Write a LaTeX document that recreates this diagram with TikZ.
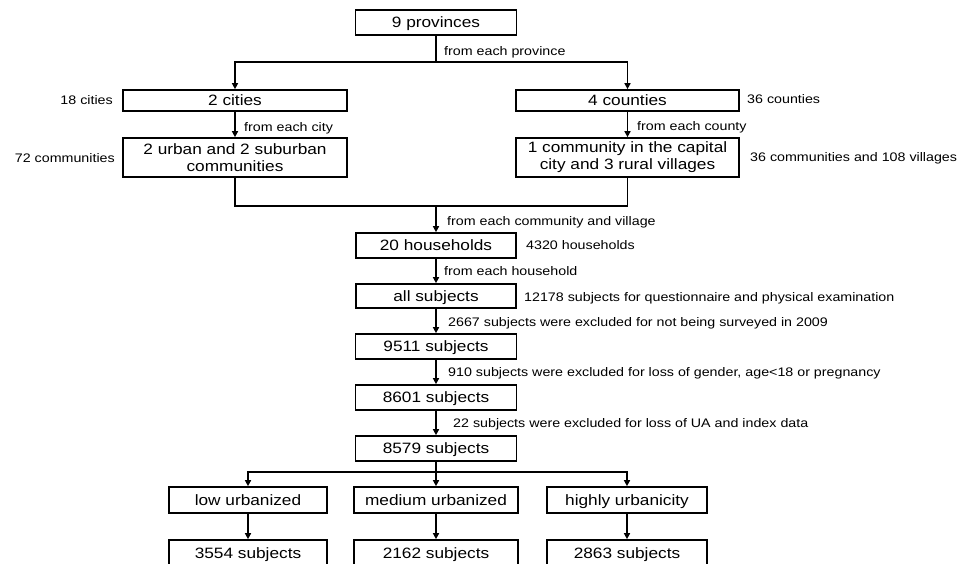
\documentclass[tikz,border=0pt]{standalone}
\usepackage{fontspec}
\setmainfont{Liberation Sans}[FakeStretch=1.15]
\usetikzlibrary{arrows.meta}
\tikzset{
  box/.style={draw, line width=1.7pt, inner sep=0pt, align=center, font=\fontsize{15}{17}\selectfont},
  onebox/.style={box, text height=13.7pt, text depth=3pt},
  lbl/.style={inner sep=0pt, font=\fontsize{12.4}{15}\selectfont, text height=11.9pt, text depth=3pt},
  conn/.style={line width=1.7pt, -{Triangle[length=6pt,width=6pt]}},
  plain/.style={line width=1.7pt}
}
\begin{document}
\begin{tikzpicture}[x=1pt,y=-1pt]
\clip (0,0) rectangle (968,563);
\fill[white] (0,0) rectangle (968,563);
% boxes
\node[onebox, minimum width=161pt, minimum height=25pt] (prov) at (436,22.5) {9 provinces};
\node[onebox, minimum width=224pt, minimum height=21pt] (cities) at (235,100.5) {2 cities};
\node[onebox, minimum width=223pt, minimum height=21pt] (counties) at (627.5,100.5) {4 counties};
\node[box, minimum width=224pt, minimum height=39pt] (urban) at (235,157.5) {2 urban and 2 suburban\\communities};
\node[box, minimum width=223pt, minimum height=39pt] (comm) at (627.5,157.5) {1 community in the capital\\city and 3 rural villages};
\node[onebox, minimum width=160pt, minimum height=25pt] (hh) at (436,245.5) {20 households};
\node[onebox, minimum width=160pt, minimum height=24pt] (all) at (436,296) {all subjects};
\node[onebox, minimum width=161pt, minimum height=25pt] (s9511) at (436,346.5) {9511 subjects};
\node[onebox, minimum width=161pt, minimum height=25pt] (s8601) at (436,397.5) {8601 subjects};
\node[onebox, minimum width=161pt, minimum height=25pt] (s8579) at (436,448.5) {8579 subjects};
\node[onebox, minimum width=158pt, minimum height=26pt] (low) at (248,500) {low urbanized};
\node[onebox, minimum width=164pt, minimum height=26pt] (med) at (436,500) {medium urbanized};
\node[onebox, minimum width=160pt, minimum height=26pt] (high) at (627,500) {highly urbanicity};
\node[onebox, minimum width=158pt, minimum height=26pt] (b1) at (248,553) {3554 subjects};
\node[onebox, minimum width=164pt, minimum height=26pt] (b2) at (436,553) {2162 subjects};
\node[onebox, minimum width=160pt, minimum height=26pt] (b3) at (627,553) {2863 subjects};
% junctions
\coordinate (j1) at (436,62);
\coordinate (j2) at (436,206);
\coordinate (j3) at (436,472);
% connectors
\draw[plain] (prov.south) -- (j1);
\draw[conn] (j1) -| (cities.north);
\draw[conn] (j1) -| (counties.north);
\draw[conn] (cities.south) -- (urban.north);
\draw[conn] (counties.south) -- (comm.north);
\draw[plain] (urban.south) |- (j2);
\draw[plain] (comm.south) |- (j2);
\draw[conn] (j2) -- (hh.north);
\draw[conn] (hh.south) -- (all.north);
\draw[conn] (all.south) -- (s9511.north);
\draw[conn] (s9511.south) -- (s8601.north);
\draw[conn] (s8601.south) -- (s8579.north);
\draw[plain] (s8579.south) -- (j3);
\draw[conn] (j3) -| (low.north);
\draw[conn] (j3) -- (med.north);
\draw[conn] (j3) -| (high.north);
\draw[conn] (low.south) -- (b1.north);
\draw[conn] (med.south) -- (b2.north);
\draw[conn] (high.south) -- (b3.north);
% labels
\node[lbl, anchor=west] (l1) at (444,51) {from each province};
\node[lbl, anchor=west] (l2) at (244,127) {from each city};
\node[lbl, anchor=west] (l3) at (637,126) {from each county};
\node[lbl, anchor=east] (l4) at (113,100) {18 cities};
\node[lbl, anchor=east] (l5) at (115,158) {72 communities};
\node[lbl, anchor=west] (l6) at (747,99) {36 counties};
\node[lbl, anchor=west] (l7) at (750,157) {36 communities and 108 villages};
\node[lbl, anchor=west] (l8) at (447,221) {from each community and village};
\node[lbl, anchor=west] (l9) at (526,245) {4320 households};
\node[lbl, anchor=west] (l10) at (444,271) {from each household};
\node[lbl, anchor=west] (l11) at (524,297) {12178 subjects for questionnaire and physical examination};
\node[lbl, anchor=west] (l12) at (448,322) {2667 subjects were excluded for not being surveyed in 2009};
\node[lbl, anchor=west] (l13) at (448,372) {910 subjects were excluded for loss of gender, age<18 or pregnancy};
\node[lbl, anchor=west] (l14) at (453,423) {22 subjects were excluded for loss of UA and index data};
\end{tikzpicture}
\end{document}
